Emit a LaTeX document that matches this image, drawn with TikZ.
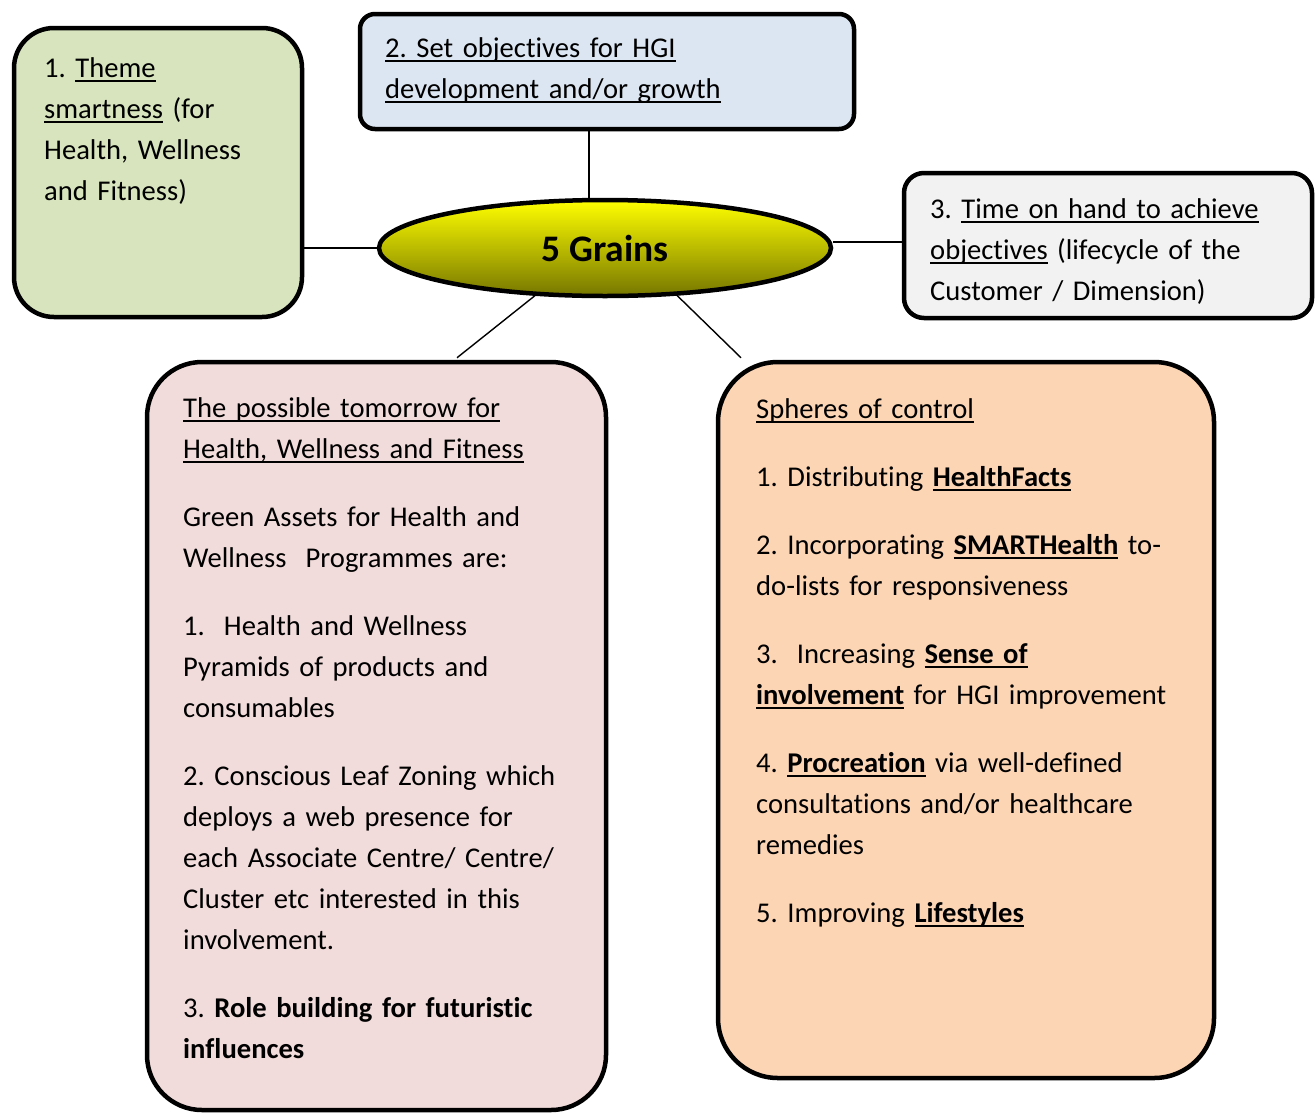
\documentclass[tikz,border=0pt]{standalone}
\usepackage{fontspec}
\setmainfont{Carlito}[Ligatures={NoCommon}]
\usetikzlibrary{shapes.geometric,calc}
\frenchspacing
\newcommand{\myul}[1]{\leavevmode\setbox0\hbox{#1}\rlap{\rule[-4.5pt]{\wd0}{1.7pt}}\box0\relax}
\definecolor{greenfill}{RGB}{215,228,189}
\definecolor{bluefill}{RGB}{220,230,242}
\definecolor{grayfill}{RGB}{242,242,242}
\definecolor{pinkfill}{RGB}{242,220,219}
\definecolor{orangefill}{RGB}{252,213,181}
\definecolor{olivebot}{RGB}{118,118,0}
\definecolor{olivemid}{RGB}{222,222,0}
\begin{document}
\begin{tikzpicture}[x=1pt,y=-1pt,
  mybox/.style={draw=black, line width=4.5pt, inner sep=0pt},
  txt/.style={anchor=base west, inner sep=0pt, text width=#1, align=left,
    font=\fontsize{28.6}{41}\selectfont\frenchspacing},
  link/.style={line width=1.4pt}]
\useasboundingbox (0,0) rectangle (1316,1114);
% boxes
\node[mybox, fill=greenfill, rounded corners=40pt, minimum width=288pt, minimum height=289pt] (green) at (158,172.5) {};
\node[mybox, fill=bluefill, rounded corners=15pt, minimum width=494pt, minimum height=115pt] (blue) at (607,71.5) {};
\node[mybox, fill=grayfill, rounded corners=20pt, minimum width=408pt, minimum height=145pt] (gray) at (1108,245.5) {};
\node[mybox, fill=pinkfill, rounded corners=55pt, minimum width=459pt, minimum height=748pt] (pink) at (376.5,736) {};
\node[mybox, fill=orangefill, rounded corners=60pt, minimum width=496pt, minimum height=716pt] (orange) at (966,720) {};
% centre ellipse
\node[ellipse, draw=black, line width=4.5pt, inner sep=0pt, minimum width=452pt, minimum height=96pt,
  top color=yellow, middle color=olivemid, bottom color=olivebot,
  font=\fontsize{37.5}{40}\selectfont\bfseries] (grains) at (605,248) {5 Grains};
% connectors
\coordinate (vx) at (589,0);
\draw[link] (grains.north -| vx) -- (blue.south -| vx);
\draw[link] (grains.west) -- (grains.west -| green.east);
\draw[link] ([yshift=6pt]grains.east) -- ([yshift=6pt]grains.east -| gray.west);
\draw[link] ($(grains.center)+(-70,47.6)$) -- ($(pink.north)+(80.5,-2)$);
\draw[link] ($(grains.center)+(72,47.4)$) -- ($(orange.north)+(-225,-2)$);
% texts
\node[txt=255pt] (tgreen) at (44,77) {1. \myul{Theme}\\ \myul{smartness} (for\\ Health, Wellness\\ and Fitness)};
\node[txt=460pt] (tblue) at (385,57) {\myul{2. Set objectives for HGI}\\ \myul{development and/or growth}};
\node[txt=380pt] (tgray) at (930,218) {3. \myul{Time on hand to achieve}\\ \myul{objectives} (lifecycle of the\\ Customer / Dimension)};
\node[txt=420pt] (tpink) at (183,417) {\myul{The possible tomorrow for}\\ \myul{Health, Wellness and Fitness}\\[27pt]
Green Assets for Health and\\ Wellness~ Programmes are:\\[27pt]
1.~ Health and Wellness\\ Pyramids of products and\\ consumables\\[27pt]
2. Conscious Leaf Zoning which\\ deploys a web presence for\\ each Associate Centre/ Centre/\\ Cluster etc interested in this\\ involvement.\\[27pt]
3. \textbf{Role building for futuristic}\\ \textbf{influences}};
\node[txt=440pt] (torange) at (756,418) {\myul{Spheres of control}\\[27pt]
1. Distributing \textbf{\myul{HealthFacts}}\\[27pt]
2. Incorporating \textbf{\myul{SMARTHealth}} to-\\ do-lists for responsiveness\\[27pt]
3.~ Increasing \textbf{\myul{Sense of}}\\ \textbf{\myul{involvement}} for HGI improvement\\[27pt]
4. \textbf{\myul{Procreation}} via well-defined\\ consultations and/or healthcare\\ remedies\\[27pt]
5. Improving \textbf{\myul{Lifestyles}}};
\end{tikzpicture}
\end{document}
